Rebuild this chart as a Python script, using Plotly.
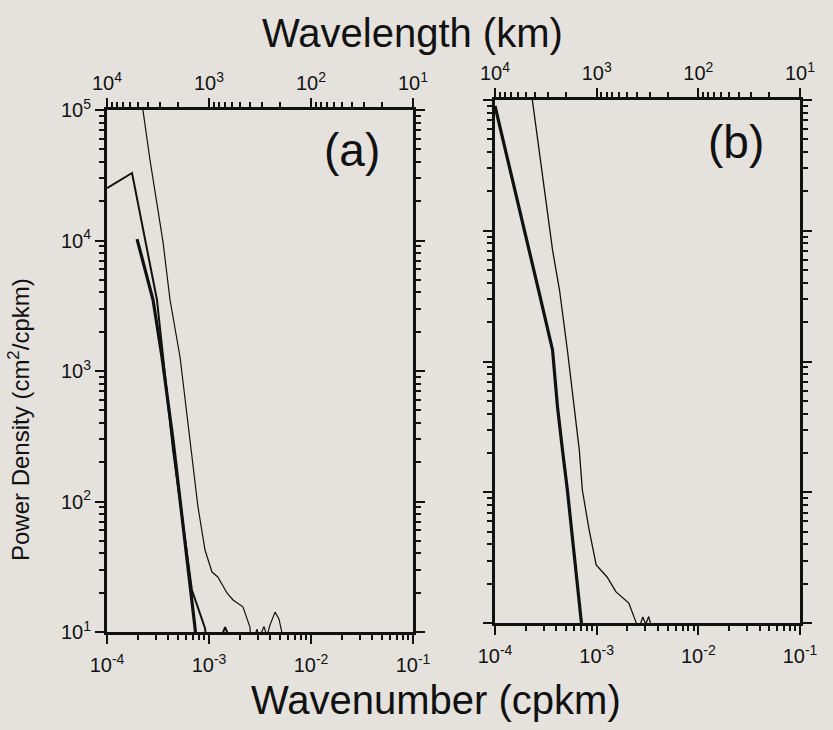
import plotly.graph_objects as go

# ---------------- data ----------------
# Panel (a)
a_thin_k = [2.25e-4, 2.64e-4, 3.54e-4, 4.15e-4, 5.2e-4, 6.52e-4, 7.8e-4, 9.14e-4, 1.07e-3, 1.22e-3,
            1.5e-3, 1.72e-3, 2.15e-3, 2.52e-3, 2.6e-3, 2.96e-3, 3.1e-3, 3.46e-3, 3.7e-3, 3.96e-3,
            4.44e-3, 4.85e-3, 5.2e-3, 5.6e-3]
a_thin_p = [1e5, 41400, 9750, 3500, 1280, 296, 90.8, 42.5, 28.8, 26.4,
            19.9, 17.6, 15.6, 10.9, 8, 10.5, 9, 11, 9.3, 11.3,
            14.2, 12.6, 10, 7.5]

a_med_k = [1e-4, 1.76e-4, 3.09e-4, 3.54e-4, 4.44e-4, 6.8e-4, 9.14e-4, 9.5e-4, 1.34e-3, 1.44e-3, 1.54e-3, 1.7e-3]
a_med_p = [25200, 32900, 3500, 1280, 248, 21, 10.7, 8, 9.5, 10.9, 9.5, 7]

a_thick_k = [1.97e-4, 2.83e-4, 3.46e-4, 4.44e-4, 7.3e-4, 7.5e-4]
a_thick_p = [10250, 3500, 1280, 296, 10.7, 8]

# Panel (b)
b_thick_k = [1.0e-4, 2.19e-4, 2.75e-4, 3.68e-4, 4.12e-4, 4.61e-4, 5.15e-4, 7.06e-4, 7.3e-4]
b_thick_p = [9e4, 7130, 3230, 1225, 449, 210, 104, 10.2, 8]

b_thin_k = [2.3e-4, 2.35e-4, 3.68e-4, 4.31e-4, 5.15e-4, 6.75e-4, 7.23e-4, 8.45e-4, 9.89e-4, 1.265e-3,
            1.55e-3, 2.07e-3, 2.43e-3, 2.6e-3, 2.84e-3, 3.04e-3, 3.25e-3, 3.5e-3, 3.8e-3]
b_thin_p = [1.1e5, 95000, 7130, 3520, 1225, 210, 104, 51, 27.8, 22.5,
            17.3, 14.2, 10.2, 9, 11.1, 9.8, 11.2, 9, 7]

# axis ticks
k_major = [1e-4, 1e-3, 1e-2, 1e-1]
k_labels = ["10<sup>-4</sup>", "10<sup>-3</sup>", "10<sup>-2</sup>", "10<sup>-1</sup>"]
lam_major = [1e4, 1e3, 1e2, 1e1]
lam_labels = ["10<sup>4</sup>", "10<sup>3</sup>", "10<sup>2</sup>", "10<sup>1</sup>"]
p_major = [1e1, 1e2, 1e3, 1e4, 1e5]
p_labels = ["10<sup>1</sup>", "10<sup>2</sup>", "10<sup>3</sup>", "10<sup>4</sup>", "10<sup>5</sup>"]

def minors(decades):
    return [m * d for d in decades for m in range(2, 10)]

k_minor = minors([1e-4, 1e-3, 1e-2])
lam_minor = minors([1e1, 1e2, 1e3])
p_minor = minors([1e1, 1e2, 1e3, 1e4])

# ---------------- figure ----------------
FONT = "Liberation Sans, Arial, Helvetica, sans-serif"
BG = "#e5e1dc"
INK = "#111111"

fig = go.Figure()

def line(x, y, w, xa, ya):
    fig.add_trace(go.Scatter(x=x, y=y, mode="lines", xaxis=xa, yaxis=ya,
                             line=dict(color=INK, width=w), showlegend=False,
                             hoverinfo="skip"))

line(a_thin_k, a_thin_p, 1.2, "x", "y")
line(a_med_k, a_med_p, 2.0, "x", "y")
line(a_thick_k, a_thick_p, 3.2, "x", "y")
line(b_thin_k, b_thin_p, 1.3, "x2", "y2")
line(b_thick_k, b_thick_p, 3.2, "x2", "y2")
# carriers for the top (wavelength) axes
fig.add_trace(go.Scatter(x=[1e3], y=[1e3], mode="lines", xaxis="x3", yaxis="y",
                         showlegend=False, hoverinfo="skip"))
fig.add_trace(go.Scatter(x=[1e3], y=[1e3], mode="lines", xaxis="x4", yaxis="y2",
                         showlegend=False, hoverinfo="skip"))

W, H = 833, 730
dom_a_x = [107 / W, 413 / W]
dom_a_y = [1 - 632 / H, 1 - 110 / H]
dom_b_x = [495 / W, 800 / W]
dom_b_y = [1 - 623 / H, 1 - 100 / H]

tickfont = dict(family=FONT, size=20, color=INK)

common = dict(ticks="outside", ticklen=9, tickwidth=2, tickcolor=INK,
              showline=True, linewidth=3, linecolor=INK, automargin=False,
              showgrid=False, zeroline=False, tickfont=tickfont)

def minor(vals):
    return dict(tickmode="array", tickvals=vals, ticks="outside",
                ticklen=5, tickwidth=1.5, tickcolor=INK, showgrid=False)

def k_axis(domain, anchor):
    return dict(type="log", range=[-4, -1], domain=domain, anchor=anchor,
                tickmode="array", tickvals=k_major, ticktext=k_labels,
                ticklabelstandoff=4, minor=minor(k_minor), **common)

def lam_axis(overlay, anchor):
    return dict(type="log", range=[4, 1], overlaying=overlay, anchor=anchor, side="top",
                tickmode="array", tickvals=lam_major, ticktext=lam_labels,
                minor=minor(lam_minor), **common)

def p_axis(domain, anchor, labels):
    return dict(type="log", range=[1, 5], domain=domain, anchor=anchor,
                tickmode="array", tickvals=p_major, ticktext=p_labels,
                showticklabels=labels, mirror="ticks", minor=minor(p_minor), **common)

fig.update_layout(
    width=W, height=H,
    margin=dict(l=0, r=0, t=0, b=0, autoexpand=False),
    paper_bgcolor=BG, plot_bgcolor=BG,
    font=dict(family=FONT, color=INK),
    xaxis=k_axis(dom_a_x, "y"),
    yaxis=p_axis(dom_a_y, "x", True),
    xaxis2=k_axis(dom_b_x, "y2"),
    yaxis2=p_axis(dom_b_y, "x2", False),
    xaxis3=lam_axis("x", "y"),
    xaxis4=lam_axis("x2", "y2"),
    showlegend=False,
)

def note(text, x, y, size, angle=0):
    fig.add_annotation(text=text, x=x / W, y=1 - y / H, xref="paper", yref="paper",
                       showarrow=False, xanchor="center", yanchor="middle",
                       textangle=angle, font=dict(family=FONT, size=size, color=INK))

note("Wavelength (km)", 412, 33, 40)
note("Wavenumber (cpkm)", 436, 700, 40)
note("Power Density (cm<sup>2</sup>/cpkm)", 19, 420, 24, -90)
note("(a)", 352, 150, 46)
note("(b)", 736, 142, 46)

fig.write_html("out.html", config={"displayModeBar": False},
               post_script="document.body.style.margin='0';")
